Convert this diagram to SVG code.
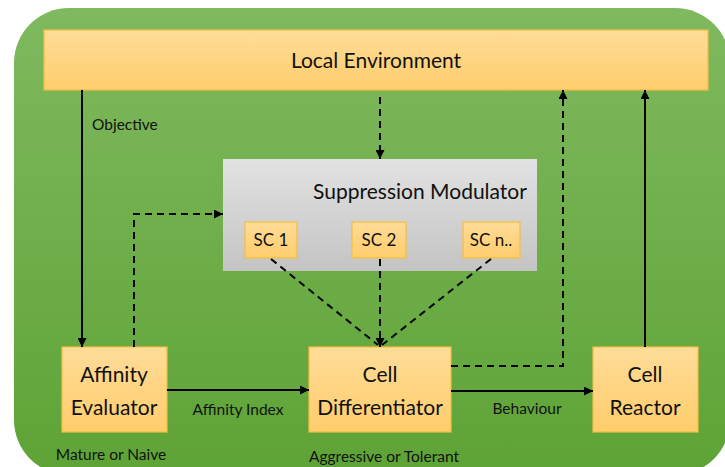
<svg xmlns="http://www.w3.org/2000/svg" width="725" height="467" viewBox="0 0 725 467">
  <defs>
    <linearGradient id="bg" x1="0" y1="0" x2="0" y2="1">
      <stop offset="0" stop-color="#80b95f"/>
      <stop offset="1" stop-color="#5ea336"/>
    </linearGradient>
    <linearGradient id="orange" x1="0" y1="0" x2="0" y2="1">
      <stop offset="0" stop-color="#ffdc98"/>
      <stop offset="1" stop-color="#ffcd6c"/>
    </linearGradient>
    <linearGradient id="gray" x1="0" y1="0" x2="0" y2="1">
      <stop offset="0" stop-color="#e2e2e2"/>
      <stop offset="1" stop-color="#c4c4c4"/>
    </linearGradient>
    <marker id="arrow" viewBox="0 0 10 10" refX="10" refY="5" markerWidth="9" markerHeight="9" markerUnits="userSpaceOnUse" orient="auto">
      <path d="M0,0 L10,5 L0,10 z" fill="#000"/>
    </marker>
  </defs>
  <style>
    text { font-family: Lato, "Open Sans", "Liberation Sans", sans-serif; fill: #111; }
    .box { fill: url(#orange); stroke: #f2bf45; stroke-width: 1.2; }
    .big { font-size: 21px; text-anchor: middle; }
    .sc { font-size: 17px; text-anchor: middle; }
    .lbl { font-size: 15.5px; }
    .mid { text-anchor: middle; }
    .solid { fill: none; stroke: #000; stroke-width: 2; }
    .dash { fill: none; stroke: #000; stroke-width: 2; stroke-dasharray: 7 5; }
  </style>

  <!-- green backdrop -->
  <rect x="14" y="8" width="716" height="467" rx="55" ry="55" fill="url(#bg)"/>

  <g id="local-environment">
    <rect class="box" x="44" y="30" width="664" height="60"/>
    <text class="big" x="376" y="68">Local Environment</text>
  </g>

  <g id="suppression-modulator">
    <rect x="223" y="159" width="314" height="112" fill="url(#gray)"/>
    <text x="420" y="199" font-size="21" text-anchor="middle">Suppression Modulator</text>
  </g>

  <g id="sc1">
    <rect class="box" x="245" y="222" width="52" height="36"/>
    <text class="sc" x="271" y="246">SC 1</text>
  </g>
  <g id="sc2">
    <rect class="box" x="352" y="222" width="54" height="36"/>
    <text class="sc" x="379" y="246">SC 2</text>
  </g>
  <g id="scn">
    <rect class="box" x="463" y="222" width="57" height="36"/>
    <text class="sc" x="491" y="246">SC n..</text>
  </g>

  <g id="affinity-evaluator">
    <rect class="box" x="62" y="347" width="105" height="85"/>
    <text class="big" x="114" y="382">Affinity</text>
    <text class="big" x="114" y="415">Evaluator</text>
  </g>

  <g id="cell-differentiator">
    <rect class="box" x="309" y="347" width="142" height="85"/>
    <text class="big" x="380" y="382">Cell</text>
    <text class="big" x="380" y="415">Differentiator</text>
  </g>

  <g id="cell-reactor">
    <rect class="box" x="593" y="347" width="105" height="85"/>
    <text class="big" x="645" y="382">Cell</text>
    <text class="big" x="645" y="415">Reactor</text>
  </g>

  <g id="connectors">
    <path class="solid" d="M82,90 V347" marker-end="url(#arrow)"/>
    <path class="dash" d="M380,97 V159" marker-end="url(#arrow)"/>
    <path class="dash" d="M134,347 V214 H223" marker-end="url(#arrow)"/>
    <path class="dash" d="M271,259 L378,345"/>
    <path class="dash" d="M380,259 V347" marker-end="url(#arrow)"/>
    <path class="dash" d="M491,259 L382,345"/>
    <path class="solid" d="M167,390 H309" marker-end="url(#arrow)"/>
    <path class="solid" d="M451,391 H593" marker-end="url(#arrow)"/>
    <path class="dash" d="M451,366 H563 V90" marker-end="url(#arrow)"/>
    <path class="solid" d="M645,347 V90" marker-end="url(#arrow)"/>
  </g>

  <g id="labels">
    <text class="lbl" x="92" y="130">Objective</text>
    <text class="lbl mid" x="238" y="415">Affinity Index</text>
    <text class="lbl mid" x="527" y="414">Behaviour</text>
    <text class="lbl mid" x="111" y="460">Mature or Naive</text>
    <text class="lbl mid" x="384" y="462">Aggressive or Tolerant</text>
  </g>
</svg>
